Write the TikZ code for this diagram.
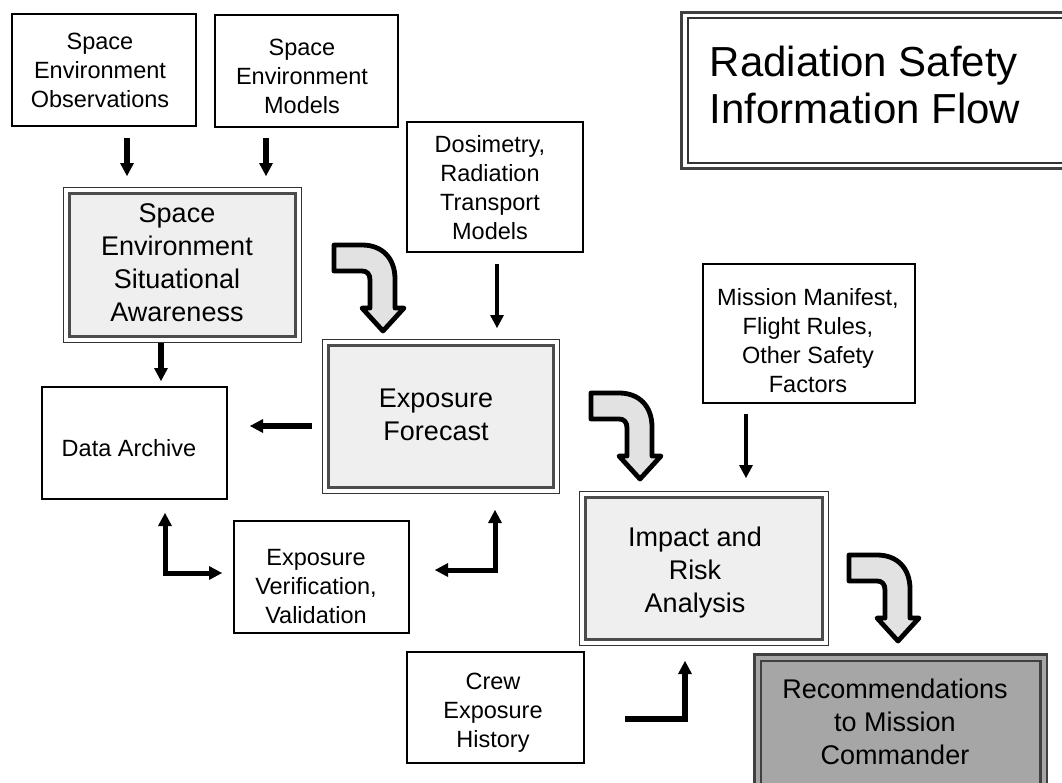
\documentclass[tikz,border=0pt]{standalone}
\usepackage{fontspec}
\setmainfont{Liberation Sans}
\usetikzlibrary{arrows.meta}
\definecolor{boxgray}{HTML}{EFEFEF}
\definecolor{recgray}{HTML}{A6A6A6}
\definecolor{bendgray}{HTML}{E2E2E2}
\tikzset{
  plain/.style={draw=black, line width=1.3pt, fill=white, inner sep=0pt, outer sep=0pt},
  mainbox/.style={draw=black!70, line width=3pt, fill=boxgray, inner sep=0pt, outer sep=0pt},
  thinframe/.style={draw=black!80, line width=1pt},
  recbox/.style={draw=black!75, line width=2.5pt, double=recgray, double distance=4pt, fill=recgray, inner sep=0pt, outer sep=0pt},
  titlebox/.style={draw=black!80, line width=1.2pt, fill=white, inner sep=0pt, outer sep=0pt},
  titleframe/.style={draw=black!75, line width=3pt},
  smalltxt/.style={font=\fontsize{23.5}{29}\selectfont, align=center, inner sep=0pt},
  bigtxt/.style={font=\fontsize{27}{33}\selectfont, align=center, inner sep=0pt},
  titletxt/.style={font=\fontsize{42}{47}\selectfont, align=left, inner sep=0pt},
  arr/.style={line width=5pt, -{Triangle[width=14pt,length=13pt,line width=0pt]}},
  biarr/.style={line width=5pt, line join=miter, {Triangle[width=14pt,length=13pt,line width=0pt]}-{Triangle[width=14pt,length=13pt,line width=0pt]}},
  bendarrow/.pic={
    \draw[line width=4.8pt, fill=bendgray, line join=round]
      (2,2) -- (30,2) .. controls (50,2) and (63,15) .. (63,36) -- (63,65) -- (72,65) -- (51,88)
      -- (30,65) -- (38,65) -- (38,37) .. controls (38,31) and (35,28) .. (30,28) -- (2,28) -- cycle;
  }
}
\begin{document}
\begin{tikzpicture}[x=1pt,y=-1pt]
\useasboundingbox (0,0) rectangle (1062,782);
\fill[white] (0,0) rectangle (1062,782);

% title
\node[titlebox, anchor=north west, minimum width=400pt, minimum height=145pt,
  label={[titletxt, xshift=-23pt, yshift=6pt]center:{Radiation Safety\\Information Flow}}] (title) at (688,18) {};
\draw[titleframe] ([shift={(-6.5pt,5.5pt)}]title.north west) rectangle ([shift={(6pt,-5pt)}]title.south east);

% plain boxes
\node[plain, minimum width=184pt, minimum height=112pt,
  label={[smalltxt, xshift=-4pt]center:{Space\\Environment\\Observations}}] (seo) at (104,70) {};
\node[plain, minimum width=183pt, minimum height=112pt,
  label={[smalltxt, xshift=-4.5pt, yshift=-5pt]center:{Space\\Environment\\Models}}] (sem) at (306.5,71) {};
\node[plain, minimum width=176pt, minimum height=130pt,
  label={[smalltxt, xshift=-5pt, yshift=-0.5pt]center:{Dosimetry,\\Radiation\\Transport\\Models}}] (dos) at (495,187) {};
\node[plain, minimum width=212pt, minimum height=139pt,
  label={[smalltxt, xshift=-1pt, yshift=-7pt]center:{Mission Manifest,\\Flight Rules,\\Other Safety\\Factors}}] (mm) at (809,333.5) {};
\node[plain, minimum width=185pt, minimum height=112pt,
  label={[smalltxt, xshift=-5.5pt, yshift=-5.5pt]center:{Data Archive}}] (da) at (134.5,443) {};
\node[plain, minimum width=175pt, minimum height=112pt,
  label={[smalltxt, xshift=-5.5pt, yshift=-9.5pt]center:{Exposure\\Verification,\\Validation}}] (ev) at (321.5,577) {};
\node[plain, minimum width=177pt, minimum height=111pt,
  label={[smalltxt, xshift=-2.5pt, yshift=-5.5pt]center:{Crew\\Exposure\\History}}] (crew) at (495.5,707.5) {};

% main boxes
\node[mainbox, minimum width=226pt, minimum height=143pt,
  label={[bigtxt, xshift=-5pt, yshift=1.5pt]center:{Space\\Environment\\Situational\\Awareness}}] (sesa) at (182,264.5) {};
\draw[thinframe] ([shift={(-6pt,6pt)}]sesa.north west) rectangle ([shift={(6pt,-6pt)}]sesa.south east);

\node[mainbox, minimum width=225pt, minimum height=142pt,
  label={[bigtxt, xshift=-4.5pt, yshift=1.5pt]center:{Exposure\\Forecast}}] (ef) at (440.5,416) {};
\draw[thinframe] ([shift={(-6pt,6pt)}]ef.north west) rectangle ([shift={(6pt,-6pt)}]ef.south east);

\node[mainbox, minimum width=237pt, minimum height=142pt,
  label={[bigtxt, xshift=-8.5pt, yshift=-4.3pt]center:{Impact and\\Risk\\Analysis}}] (imp) at (703.5,568) {};
\draw[thinframe] ([shift={(-6pt,6pt)}]imp.north west) rectangle ([shift={(6pt,-6pt)}]imp.south east);

\node[recbox, minimum width=286pt, minimum height=132.5pt,
  label={[bigtxt, xshift=-5.5pt, yshift=1.75pt]center:{Recommendations\\to Mission\\Commander}}] (rec) at (900.5,723.75) {};

% straight arrows
\draw[arr, line width=6pt] ([shift={(23pt,-12pt)}]seo.south) -- ([shift={(-55pt,17pt)}]sesa.north);
\draw[arr, line width=6pt] ([shift={(-40.5pt,-11pt)}]sem.south) -- ([shift={(84pt,17pt)}]sesa.north);
\draw[arr, line width=6pt] ([shift={(-21pt,-7pt)}]sesa.south) -- ([shift={(26.5pt,6pt)}]da.north);
\draw[arr, line width=4.5pt] ([shift={(2pt,-12pt)}]dos.south) -- ([shift={(56.5pt,17pt)}]ef.north);
\draw[arr, line width=5.5pt] ([shift={(-16pt,-10pt)}]ef.west) -- ([shift={(23pt,17pt)}]da.east);
\draw[arr, line width=4.5pt] ([shift={(-63pt,-10.5pt)}]mm.south) -- ([shift={(42.5pt,19pt)}]imp.north);

% L-shaped arrows
\draw[biarr] ([shift={(30.5pt,-14pt)}]da.south) |- ([shift={(-12pt,4pt)}]ev.west);
\draw[biarr] ([shift={(26pt,7pt)}]ev.east) -| ([shift={(54.5pt,-23pt)}]ef.south);
\draw[arr, line width=6.5pt, line join=miter] ([shift={(41pt,-11.5pt)}]crew.east) -| ([shift={(-18.5pt,-22pt)}]imp.south);

% bent block arrows
\pic at (332,243) {bendarrow};
\pic at (589,391) {bendarrow};
\pic at (847,553) {bendarrow};
\end{tikzpicture}
\end{document}
